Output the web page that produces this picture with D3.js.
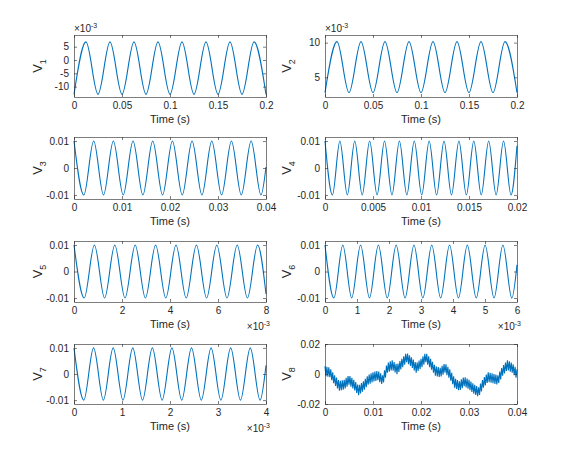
<!DOCTYPE html>
<html><head><meta charset="utf-8">
<script src="https://cdn.jsdelivr.net/npm/d3@7"></script>
<style>body{margin:0;background:#fff}text{font-family:"Liberation Sans",Arial,sans-serif;fill:#262626}</style>
</head><body><svg id="c" width="570" height="468"></svg>
<script>
// ---- data ----
const xDomains=[[0,0.2],[0,0.2],[0,0.04],[0,0.02],[0,0.008],[0,0.006],[0,0.004],[0,0.04]];
const yDomains=[[-0.0139,0.0094],[0.00216,0.0111],[-0.0115,0.0115],[-0.0115,0.0115],[-0.0115,0.0115],[-0.0115,0.0115],[-0.0115,0.0115],[-0.02,0.02]];
const xTickVals=[[0,0.05,0.1,0.15,0.2],[0,0.05,0.1,0.15,0.2],[0,0.01,0.02,0.03,0.04],[0,0.005,0.01,0.015,0.02],[0,0.002,0.004,0.006,0.008],[0,0.001,0.002,0.003,0.004,0.005,0.006],[0,0.001,0.002,0.003,0.004],[0,0.01,0.02,0.03,0.04]];
const xTickLabels=[["0","0.05","0.1","0.15","0.2"],["0","0.05","0.1","0.15","0.2"],["0","0.01","0.02","0.03","0.04"],["0","0.005","0.01","0.015","0.02"],["0","2","4","6","8"],["0","1","2","3","4","5","6"],["0","1","2","3","4"],["0","0.01","0.02","0.03","0.04"]];
const yTickVals=[[-0.01,-0.005,0,0.005],[0.005,0.01],[-0.01,0,0.01],[-0.01,0,0.01],[-0.01,0,0.01],[-0.01,0,0.01],[-0.01,0,0.01],[-0.02,0,0.02]];
const yTickLabels=[["-10","-5","0","5"],["5","10"],["-0.01","0","0.01"],["-0.01","0","0.01"],["-0.01","0","0.01"],["-0.01","0","0.01"],["-0.01","0","0.01"],["-0.02","0","0.02"]];
const yExp=[true,true,false,false,false,false,false,false];
const xExp=[false,false,false,false,true,true,true,false];
// sinusoid panels: period, first-extremum value, opposite extremum value (read)
const periods=[0.025,0.025,0.0041,0.00155,0.00085,0.000556,0.000408];
const startVals=[-0.0129,0.0028,0.0100,0.0100,0.0100,0.0100,0.0100];
const otherVals=[0.0068,0.01015,-0.0100,-0.0100,-0.0100,-0.0100,-0.0100];
// V8: slow centre every 1 ms plus ripple
const v8Centre=[0.002,0.001,-0.004,-0.008,-0.007,-0.004,-0.007,-0.011,-0.008,-0.004,-0.002,-0.001,-0.004,0.004,0.006,0.003,0.007,0.011,0.008,0.004,0.007,0.011,0.007,0.002,0.001,0.004,0.000,-0.006,-0.008,-0.005,-0.007,-0.010,-0.012,-0.006,-0.002,-0.003,-0.004,0.002,0.006,0.004,0.000];
const v8RipplePeriod=0.0004, v8RippleAmp=0.0032;

// ---- build series (extrema sequences) ----
function sinePts(i){
  const [x0,x1]=xDomains[i],h=periods[i]/2,pts=[];
  let k=0;for(let t=x0;t<=x1+1e-12;t+=h,k++)pts.push([t,k%2?otherVals[i]:startVals[i]]);
  const last=pts[pts.length-1];
  if(last[0]<x1){const f=(x1-last[0])/h,nxt=k%2?otherVals[i]:startVals[i];
    pts.push([x1,last[1]+(nxt-last[1])*(1-Math.cos(Math.PI*f))/2]);}
  return pts;
}
function v8Pts(){
  const c=d3.scaleLinear().domain(v8Centre.map((d,i)=>i*0.001)).range(v8Centre);
  const pts=[];let k=0;
  for(let t=0;t<=0.04+1e-12;t+=v8RipplePeriod/2,k++)pts.push([t,c(t)+(k%2?-1:1)*v8RippleAmp]);
  return pts;
}

const svg=d3.select("#c");
const cols=[[74,266],[325,517]],rows=[[35,97],[137,199],[241,302],[344,404]];
for(let i=0;i<8;i++){
  const [L,R]=cols[i%2],[T,B]=rows[Math.floor(i/2)];
  const x=d3.scaleLinear().domain(xDomains[i]).range([L,R]);
  const y=d3.scaleLinear().domain(yDomains[i]).range([B,T]);
  const g=svg.append("g");
  g.append("rect").attr("x",L).attr("y",T).attr("width",R-L).attr("height",B-T).attr("fill","#fff");
  const data=i<7?sinePts(i):v8Pts();
  g.append("path").datum(data).attr("fill","none").attr("stroke","#0072BD").attr("stroke-width",1.1)
   .attr("d",d3.line().x(d=>x(d[0])).y(d=>y(d[1])).curve(i<7?d3.curveMonotoneX:d3.curveLinear));
  const ax=(gen,tx,ty)=>{const a=g.append("g").attr("transform",`translate(${tx},${ty})`).call(gen);
    a.select(".domain").attr("stroke","#262626").attr("stroke-width",0.6);
    a.selectAll(".tick line").attr("stroke","#262626").attr("stroke-width",0.6);
    a.selectAll("text").attr("font-size",10).attr("fill","#262626").style("font-family","Liberation Sans,Arial");return a;};
  const xf=(d)=>xTickLabels[i][xTickVals[i].indexOf(d)];
  const yf=(d)=>yTickLabels[i][yTickVals[i].indexOf(d)];
  ax(d3.axisBottom(x).tickValues(xTickVals[i]).tickFormat(xf).tickSizeInner(-3).tickSizeOuter(0).tickPadding(5),0,B);
  ax(d3.axisTop(x).tickValues(xTickVals[i]).tickFormat("").tickSizeInner(-3).tickSizeOuter(0),0,T);
  ax(d3.axisLeft(y).tickValues(yTickVals[i]).tickFormat(yf).tickSizeInner(-3).tickSizeOuter(0).tickPadding(5),L,0);
  ax(d3.axisRight(y).tickValues(yTickVals[i]).tickFormat("").tickSizeInner(-3).tickSizeOuter(0),R,0);
  g.append("text").attr("x",(L+R)/2).attr("y",B+26).attr("text-anchor","middle").attr("font-size",11).text("Time (s)");
  const yl=g.append("text").attr("transform",`translate(${L-(i%2?34:32)},${(T+B)/2}) rotate(-90)`).attr("text-anchor","middle").attr("font-size",13);
  yl.append("tspan").text("V");yl.append("tspan").attr("font-size",9).attr("dy",4).text(i+1);
  if(yExp[i]){const t=g.append("text").attr("x",L).attr("y",T-3).attr("font-size",10);
    t.append("tspan").text("\u00d710");t.append("tspan").attr("font-size",7).attr("dy",-4).text("-3");}
  if(xExp[i]){const t=g.append("text").attr("x",R+4).attr("y",B+28).attr("text-anchor","end").attr("font-size",10);
    t.append("tspan").text("\u00d710");t.append("tspan").attr("font-size",7).attr("dy",-4).text("-3");}
}
</script></body></html>
